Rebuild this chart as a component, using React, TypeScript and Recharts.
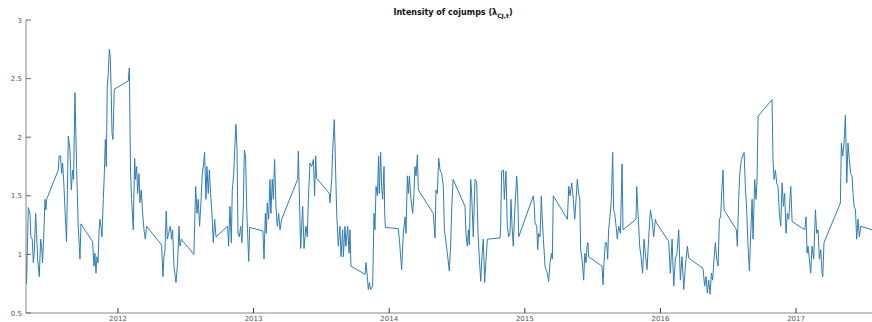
import React from 'react'
import { LineChart, Line, XAxis, YAxis } from 'recharts'

// decimal-year time stamps and cojump intensity
const dates = [
  2011.322, 2011.326, 2011.339, 2011.351, 2011.358, 2011.368, 2011.376, 2011.383, 2011.393, 2011.4,
  2011.408, 2011.42, 2011.43, 2011.437, 2011.444, 2011.452, 2011.462, 2011.469, 2011.474, 2011.56,
  2011.567, 2011.577, 2011.585, 2011.592, 2011.602, 2011.612, 2011.621, 2011.634, 2011.646, 2011.656,
  2011.666, 2011.673, 2011.683, 2011.695, 2011.707, 2011.72, 2011.727, 2011.813, 2011.823, 2011.83,
  2011.838, 2011.845, 2011.853, 2011.86, 2011.867, 2011.875, 2011.882, 2011.892, 2011.899, 2011.907,
  2011.914, 2011.921, 2011.929, 2011.936, 2011.943, 2011.951, 2011.956, 2011.963, 2011.973, 2012.076,
  2012.084, 2012.093, 2012.101, 2012.113, 2012.123, 2012.13, 2012.138, 2012.145, 2012.155, 2012.162,
  2012.172, 2012.182, 2012.192, 2012.202, 2012.211, 2012.322, 2012.332, 2012.339, 2012.347, 2012.356,
  2012.364, 2012.374, 2012.386, 2012.396, 2012.403, 2012.413, 2012.428, 2012.44, 2012.45, 2012.457,
  2012.467, 2012.56, 2012.573, 2012.583, 2012.592, 2012.602, 2012.612, 2012.622, 2012.629, 2012.639,
  2012.649, 2012.656, 2012.666, 2012.674, 2012.683, 2012.693, 2012.703, 2012.713, 2012.723, 2012.809,
  2012.816, 2012.826, 2012.836, 2012.843, 2012.853, 2012.863, 2012.87, 2012.878, 2012.885, 2012.895,
  2012.905, 2012.914, 2012.924, 2012.932, 2012.941, 2012.949, 2012.956, 2012.964, 2012.971, 2013.069,
  2013.077, 2013.087, 2013.094, 2013.101, 2013.111, 2013.121, 2013.128, 2013.138, 2013.146, 2013.155,
  2013.165, 2013.175, 2013.185, 2013.195, 2013.207, 2013.325, 2013.33, 2013.347, 2013.362, 2013.372,
  2013.386, 2013.396, 2013.404, 2013.416, 2013.428, 2013.441, 2013.45, 2013.458, 2013.465, 2013.559,
  2013.563, 2013.576, 2013.583, 2013.595, 2013.6, 2013.613, 2013.625, 2013.637, 2013.645, 2013.657,
  2013.662, 2013.674, 2013.681, 2013.694, 2013.704, 2013.711, 2013.718, 2013.822, 2013.829, 2013.839,
  2013.846, 2013.854, 2013.863, 2013.878, 2013.888, 2013.895, 2013.903, 2013.913, 2013.922, 2013.927,
  2013.937, 2013.944, 2013.952, 2013.962, 2013.967, 2013.972, 2014.067, 2014.075, 2014.092, 2014.104,
  2014.117, 2014.124, 2014.134, 2014.141, 2014.149, 2014.158, 2014.173, 2014.183, 2014.19, 2014.198,
  2014.208, 2014.215, 2014.325, 2014.338, 2014.345, 2014.355, 2014.365, 2014.375, 2014.387, 2014.399,
  2014.407, 2014.416, 2014.429, 2014.443, 2014.453, 2014.461, 2014.471, 2014.559, 2014.566, 2014.576,
  2014.584, 2014.591, 2014.601, 2014.608, 2014.62, 2014.633, 2014.645, 2014.655, 2014.665, 2014.675,
  2014.684, 2014.694, 2014.704, 2014.714, 2014.724, 2014.817, 2014.822, 2014.829, 2014.842, 2014.849,
  2014.861, 2014.871, 2014.881, 2014.891, 2014.898, 2014.906, 2014.915, 2014.925, 2014.94, 2014.947,
  2014.955, 2015.063, 2015.07, 2015.075, 2015.088, 2015.095, 2015.102, 2015.112, 2015.122, 2015.127,
  2015.137, 2015.149, 2015.156, 2015.166, 2015.176, 2015.186, 2015.196, 2015.203, 2015.21, 2015.314,
  2015.324, 2015.333, 2015.346, 2015.358, 2015.368, 2015.378, 2015.387, 2015.397, 2015.405, 2015.412,
  2015.422, 2015.434, 2015.442, 2015.451, 2015.459, 2015.466, 2015.471, 2015.569, 2015.577, 2015.584,
  2015.594, 2015.604, 2015.611, 2015.618, 2015.628, 2015.638, 2015.648, 2015.655, 2015.663, 2015.673,
  2015.682, 2015.692, 2015.705, 2015.717, 2015.724, 2015.82, 2015.825, 2015.835, 2015.847, 2015.857,
  2015.869, 2015.879, 2015.889, 2015.901, 2015.913, 2015.926, 2015.938, 2015.95, 2015.963, 2015.97,
  2016.061, 2016.073, 2016.086, 2016.098, 2016.11, 2016.122, 2016.135, 2016.147, 2016.159, 2016.172,
  2016.184, 2016.199, 2016.208, 2016.314, 2016.326, 2016.336, 2016.346, 2016.356, 2016.366, 2016.376,
  2016.385, 2016.395, 2016.405, 2016.415, 2016.425, 2016.435, 2016.444, 2016.454, 2016.462, 2016.469,
  2016.56, 2016.567, 2016.577, 2016.585, 2016.597, 2016.607, 2016.617, 2016.626, 2016.636, 2016.646,
  2016.656, 2016.666, 2016.676, 2016.683, 2016.695, 2016.705, 2016.712, 2016.72, 2016.823, 2016.83,
  2016.838, 2016.848, 2016.857, 2016.867, 2016.877, 2016.887, 2016.897, 2016.907, 2016.916, 2016.926,
  2016.936, 2016.946, 2016.961, 2016.971, 2017.064, 2017.074, 2017.081, 2017.088, 2017.098, 2017.108,
  2017.118, 2017.13, 2017.143, 2017.152, 2017.162, 2017.172, 2017.182, 2017.192, 2017.197, 2017.206,
  2017.327, 2017.334, 2017.344, 2017.354, 2017.364, 2017.374, 2017.383, 2017.393, 2017.403, 2017.413,
  2017.42, 2017.428, 2017.438, 2017.447, 2017.457, 2017.467, 2017.477, 2017.56,
]

const intensity = [
  0.98, 0.75, 1.4, 1.35, 1.15, 1.13, 0.93, 1.01, 1.35, 1.18,
  0.96, 0.81, 1.13, 1.07, 0.93, 1.13, 1.47, 1.38, 1.47, 1.72,
  1.84, 1.84, 1.69, 1.78, 1.58, 1.32, 1.11, 2.01, 1.89, 1.55,
  1.72, 1.64, 2.38, 1.75, 1.24, 0.96, 1.26, 1.11, 0.9, 1.01,
  0.84, 0.98, 0.93, 1.18, 1.3, 1.24, 1.15, 1.47, 1.67, 1.98,
  1.75, 2.43, 2.55, 2.75, 2.69, 2.35, 2.04, 1.98, 2.41, 2.48,
  2.59, 1.69, 1.47, 1.21, 1.82, 1.64, 1.75, 1.52, 1.69, 1.44,
  1.55, 1.35, 1.21, 1.13, 1.24, 1.08, 0.81, 0.98, 1.04, 1.37,
  1.13, 1.18, 1.24, 1.13, 1.21, 0.9, 0.76, 0.93, 1.24, 1.07,
  1.13, 1.0, 1.58, 1.35, 1.47, 1.24, 1.44, 1.69, 1.75, 1.87,
  1.47, 1.75, 1.52, 1.72, 1.52, 1.35, 1.1, 1.3, 1.15, 1.24,
  1.07, 1.41, 1.1, 1.55, 1.67, 1.95, 2.11, 1.89, 1.18, 1.15,
  1.24, 1.1, 1.41, 1.89, 1.84, 1.41, 1.18, 0.94, 1.23, 1.2,
  0.96, 1.35, 1.18, 1.44, 1.3, 1.64, 1.35, 1.64, 1.47, 1.81,
  1.41, 1.24, 1.35, 1.21, 1.3, 1.64, 1.88, 1.05, 1.41, 1.05,
  1.24, 1.15, 1.47, 1.78, 1.75, 1.81, 1.5, 1.84, 1.65, 1.52,
  1.44, 1.64, 1.87, 2.15, 1.95, 1.35, 1.07, 1.24, 0.98, 1.21,
  0.98, 1.24, 1.07, 1.24, 1.01, 1.21, 0.9, 0.83, 0.93, 0.81,
  0.7, 0.76, 0.7, 0.73, 1.35, 1.21, 1.58, 1.5, 1.84, 1.52,
  1.87, 1.58, 1.47, 1.75, 1.35, 1.23, 1.22, 1.13, 0.87, 1.18,
  1.32, 1.18, 1.67, 1.52, 1.67, 1.5, 1.35, 1.52, 1.75, 1.67,
  1.85, 1.55, 1.35, 1.14, 1.55, 1.52, 1.82, 1.72, 1.69, 1.58,
  1.21, 1.13, 1.01, 0.86, 1.07, 1.38, 1.64, 1.41, 1.18, 1.07,
  1.21, 1.08, 1.64, 1.52, 1.15, 1.64, 1.62, 1.18, 0.96, 0.77,
  0.98, 1.13, 0.76, 0.96, 1.13, 1.14, 1.24, 1.71, 1.72, 1.47,
  1.71, 1.24, 1.15, 1.18, 1.47, 1.24, 1.07, 1.35, 1.67, 1.55,
  1.15, 1.5, 1.41, 1.27, 1.24, 1.04, 1.18, 1.15, 1.5, 1.35,
  1.13, 0.9, 0.87, 0.84, 0.77, 0.93, 1.01, 0.96, 1.5, 1.3,
  1.58, 1.5, 1.61, 1.47, 1.3, 1.47, 1.64, 1.52, 1.47, 1.04,
  0.96, 0.78, 1.01, 0.93, 1.07, 1.1, 0.98, 0.9, 0.74, 0.93,
  1.1, 1.1, 0.96, 1.21, 1.32, 1.47, 1.87, 1.38, 1.35, 1.24,
  1.13, 1.24, 1.18, 1.77, 1.21, 1.3, 1.58, 1.35, 1.07, 0.98,
  0.84, 1.13, 1.01, 0.87, 1.13, 1.38, 1.3, 1.15, 1.3, 1.27,
  1.11, 0.84, 1.13, 0.73, 0.96, 1.01, 1.21, 0.78, 0.98, 0.7,
  0.9, 1.07, 0.97, 0.88, 0.73, 0.81, 0.67, 0.78, 0.66, 0.84,
  0.78, 0.96, 1.1, 0.96, 0.9, 1.3, 1.32, 1.58, 1.72, 1.38,
  1.21, 1.07, 1.47, 1.69, 1.81, 1.84, 1.87, 1.58, 1.38, 1.07,
  0.86, 1.18, 1.47, 1.13, 1.64, 1.47, 1.62, 2.18, 2.32, 1.81,
  1.64, 1.72, 1.61, 1.58, 1.35, 1.24, 1.61, 1.41, 1.52, 1.18,
  1.35, 1.3, 1.58, 1.28, 1.21, 1.32, 1.01, 1.07, 0.96, 0.84,
  1.07, 0.96, 1.38, 1.18, 1.21, 0.96, 1.04, 0.84, 0.81, 1.1,
  1.44, 1.95, 1.84, 1.95, 2.19, 1.61, 1.95, 1.81, 1.69, 1.67,
  1.52, 1.41, 1.38, 1.13, 1.3, 1.15, 1.24, 1.21,
]

const yearTicks = [2012, 2013, 2014, 2015, 2016, 2017]
const valueTicks = [0.5, 1, 1.5, 2, 2.5, 3]

const data = dates.map((t, i) => ({ t, v: intensity[i] }))

const tickFont = { fontFamily: 'DejaVu Sans', fontSize: 7, fill: '#555' }

function YTick({ x, y, payload }: any) {
  return (
    <g>
      <line x1={x} x2={x + 5} y1={y} y2={y} stroke="#666" />
      <text x={x - 4} y={y} dy={2.5} textAnchor="end" {...tickFont}>
        {payload.value}
      </text>
    </g>
  )
}

function XTick({ x, y, payload }: any) {
  return (
    <g>
      <line x1={x} x2={x} y1={y} y2={y - 5} stroke="#333" />
      <text x={x} y={y + 8} textAnchor="middle" {...tickFont}>
        {payload.value}
      </text>
    </g>
  )
}

export default function App() {
  return (
    <div style={{ position: 'relative', width: 872, height: 322, background: '#fff' }}>
      <style>{'body{margin:0}'}</style>
      <div
        style={{
          position: 'absolute',
          top: 8,
          left: 26,
          width: 854,
          textAlign: 'center',
          fontFamily: 'DejaVu Sans',
          fontWeight: 'bold',
          fontSize: 8,
          lineHeight: '10px',
          color: '#111',
        }}
      >
        Intensity of cojumps (λ<sub style={{ fontSize: 6 }}>CJ,t</sub>)
      </div>
      <LineChart width={872} height={322} data={data} margin={{ top: 20, right: 0, left: 0, bottom: 0 }}>
        <XAxis
          dataKey="t"
          type="number"
          domain={[2011.322, 2017.56]}
          allowDataOverflow
          ticks={yearTicks}
          tick={<XTick />}
          tickSize={0}
          tickMargin={0}
          tickLine={false}
          height={9}
          axisLine={{ stroke: '#888' }}
        />
        <YAxis
          type="number"
          domain={[0.5, 3]}
          ticks={valueTicks}
          tick={<YTick />}
          tickSize={0}
          tickMargin={0}
          tickLine={false}
          width={26}
          axisLine={{ stroke: '#888' }}
        />
        <Line
          type="linear"
          dataKey="v"
          stroke="#2f7db5"
          strokeWidth={1}
          dot={false}
          isAnimationActive={false}
        />
      </LineChart>
    </div>
  )
}
